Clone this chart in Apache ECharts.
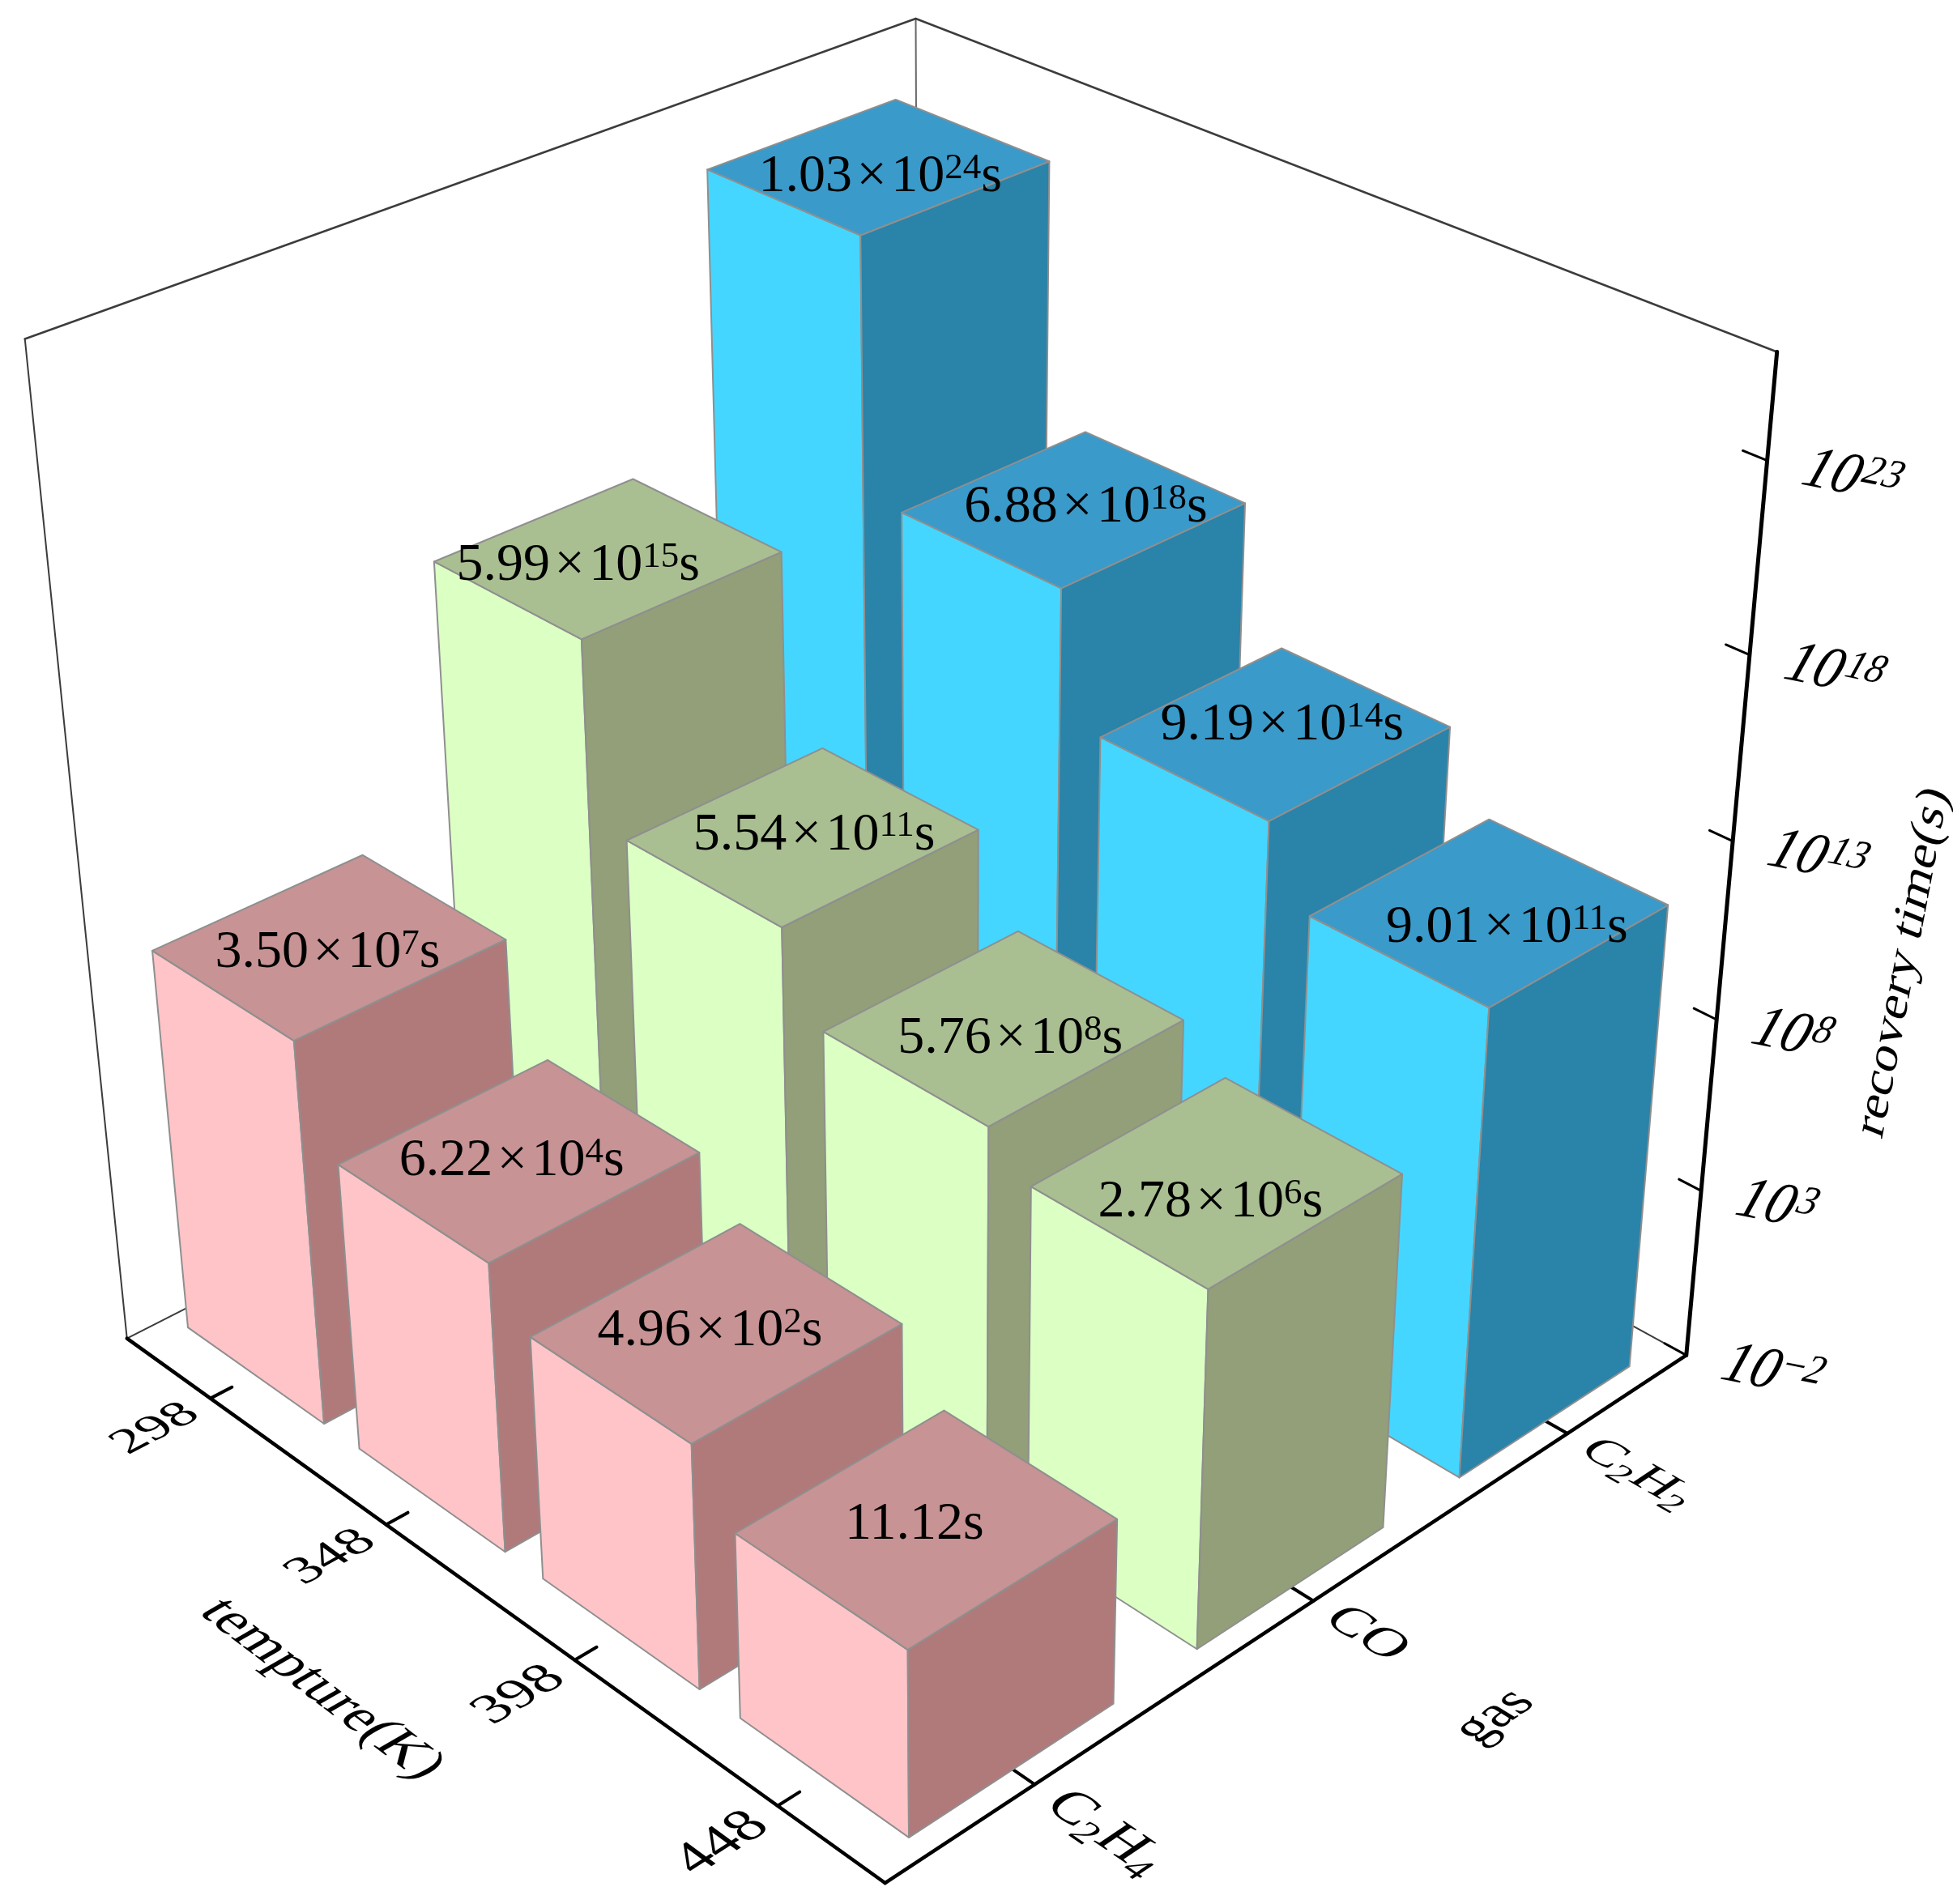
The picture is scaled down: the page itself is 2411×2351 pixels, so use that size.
<!DOCTYPE html>
<html>
<head>
<meta charset="utf-8">
<title>recovery time</title>
<style>
  html, body { margin: 0; padding: 0; background: #fff; }
  #main { width: 2411px; height: 2351px; }
</style>
<script src="https://cdn.jsdelivr.net/npm/echarts@6/dist/echarts.min.js"></script>
</head>
<body>
<div id="main"></div>
<script>
// data
const temperatures = ['298', '348', '398', '448'];
const gasLabels = ['C{sub|2}H{sub|4}', 'CO', 'C{sub|2}H{sub|2}'];
// values printed on the bars
const c2h4Times = [3.50e7, 6.22e4, 4.96e2, 11.12];
const coTimes = [5.99e15, 5.54e11, 5.76e8, 2.78e6];
const c2h2Times = [1.03e24, 6.88e18, 9.19e14, 9.01e11];
// bar tops as they sit on the axis in the picture (not the same as the printed values)
const c2h4Tops = [1.7e9, 2.5e6, 1.1e5, 2.1e3];
const coTops = [2.9e16, 3.0e11, 1.6e9, 1.7e8];
const c2h2Tops = [1.2e24, 1.2e17, 3.4e13, 3.3e11];
const zExponents = [-2, 3, 8, 13, 18, 23];
const zTopExponent = 25.7;

const gasColors = [
  { left: '#ffc4c8', right: '#b07a7b', top: '#c79394' },
  { left: '#dcffc4', right: '#929f78', top: '#a9bf92' },
  { left: '#45d6ff', right: '#2a83a8', top: '#3a9aca' }
];
const barWidthU = 0.80, barWidthV = 0.70;
const FONT = '"Liberation Serif", serif';
// small hand shifts of the printed labels from the centre of the top face, px, [gas][temperature]
const labelNudge = [
  [[-2, 10], [-9, 3], [-8, 1], [-15, -2]],
  [[-37, 11], [14, 0], [8, 16], [-8, 27]],
  [[2, 14], [15, 0], [8, -8], [22, 21]]
];
// distance of the gas tick labels from the axis
const gasLabelU = [1.08, 1.06, 1.08];

// camera: 3d box (u along temperature, v along gas, w up) to screen, fitted on the box corners
const boxCorners = [
  [0, 0, 0, 157, 1653], [1, 0, 0, 1092, 2325], [1, 1, 0, 2082, 1673],
  [0, 0, 1, 31, 418], [1, 1, 1, 2194, 435], [0, 1, 1, 1130, 23]
];
function solveCamera(pts) {
  const A = [], b = [];
  pts.forEach(function (p) {
    const u = p[0], v = p[1], w = p[2], x = p[3], y = p[4];
    A.push([u, v, w, 1, 0, 0, 0, 0, -x * u, -x * v, -x * w]); b.push(x);
    A.push([0, 0, 0, 0, u, v, w, 1, -y * u, -y * v, -y * w]); b.push(y);
  });
  // normal equations
  const n = 11, M = [];
  for (let i = 0; i < n; i++) {
    M.push([]);
    for (let j = 0; j <= n; j++) {
      let s = 0;
      for (let k = 0; k < A.length; k++) s += A[k][i] * (j < n ? A[k][j] : b[k]);
      M[i].push(s);
    }
  }
  for (let i = 0; i < n; i++) {
    let piv = i;
    for (let r = i + 1; r < n; r++) if (Math.abs(M[r][i]) > Math.abs(M[piv][i])) piv = r;
    const t = M[i]; M[i] = M[piv]; M[piv] = t;
    for (let r = 0; r < n; r++) {
      if (r === i) continue;
      const f = M[r][i] / M[i][i];
      for (let c = i; c <= n; c++) M[r][c] -= f * M[i][c];
    }
  }
  return M.map(function (row, i) { return row[n] / row[i]; });
}
const cam = solveCamera(boxCorners);
function project(u, v, w) {
  const d = cam[8] * u + cam[9] * v + cam[10] * w + 1;
  return [
    (cam[0] * u + cam[1] * v + cam[2] * w + cam[3]) / d,
    (cam[4] * u + cam[5] * v + cam[6] * w + cam[7]) / d
  ];
}

// text in an arbitrary plane: ex = screen image of text +x, ey = screen image of text +y (down)
function planeText(x, y, ex, ey, style) {
  const E = (ex[0] + ey[1]) / 2, F = (ex[0] - ey[1]) / 2;
  const G = (ex[1] + ey[0]) / 2, H = (ex[1] - ey[0]) / 2;
  const Q = Math.hypot(E, H), R = Math.hypot(F, G);
  const a1 = Math.atan2(G, F), a2 = Math.atan2(H, E);
  const theta = (a2 - a1) / 2, phi = (a2 + a1) / 2;
  return {
    type: 'group', x: x, y: y, rotation: -phi,
    children: [{
      type: 'group', scaleX: Q + R, scaleY: Q - R,
      children: [{
        type: 'text', rotation: -theta,
        style: Object.assign({ x: 0, y: 0, fill: '#000', align: 'center', verticalAlign: 'middle' }, style)
      }]
    }]
  };
}
// text lying on the floor of the box
function floorText(u, v, along, fontSize, kBase, kUp, text, rich) {
  const p = project(u, v, 0);
  const e = 0.01;
  const pu = project(u + e, v, 0), pv = project(u, v + e, 0);
  const du = [(pu[0] - p[0]) / e, (pu[1] - p[1]) / e];
  const dv = [(pv[0] - p[0]) / e, (pv[1] - p[1]) / e];
  let ex, ey;
  if (along === 'v') {
    ex = [dv[0] * kBase, dv[1] * kBase];
    ey = [du[0] * kUp, du[1] * kUp];
  } else {
    ex = [du[0] * kBase, du[1] * kBase];
    ey = [-dv[0] * kUp, -dv[1] * kUp];
  }
  return planeText(p[0], p[1], ex, ey, { text: text, fontSize: fontSize, fontFamily: FONT, rich: rich });
}
function seg(a, b, width, color) {
  return {
    type: 'line',
    shape: { x1: a[0], y1: a[1], x2: b[0], y2: b[1] },
    style: { stroke: color, lineWidth: width, lineCap: 'round' }
  };
}
function poly(points, fill) {
  return {
    type: 'polygon',
    shape: { points: points },
    style: { fill: fill, stroke: '#8f8f8f', lineWidth: 2, lineJoin: 'round' }
  };
}

function valueLabel(value) {
  if (value < 100) return value.toFixed(2) + 's';
  const parts = value.toExponential(2).split('e+');
  return parts[0] + '\u200a×\u200a10{s|' + parts[1] + '}s';
}

const zScale = { min: 0.01, max: Math.pow(10, zTopExponent) };

// rows: temperature index, bar top, gas index, printed value; far bars first so near bars paint over them
const gasTimes = [c2h4Times, coTimes, c2h2Times];
const gasTops = [c2h4Tops, coTops, c2h2Tops];
const barRows = [];
for (let g = gasTimes.length - 1; g >= 0; g--) {
  gasTimes[g].forEach(function (val, t) { barRows.push([t, gasTops[g][t], g, val]); });
}

function renderBar(params, api) {
  const rect = params.coordSys;
  const pos = api.coord([api.value(0), api.value(1)]);
  const band = api.size([1, 0])[0] / rect.width;
  const g = api.value(2);
  const u = (pos[0] - rect.x) / rect.width;
  const v = (g + 0.5) / gasLabels.length;
  const w = (rect.y + rect.height - pos[1]) / rect.height;
  const hu = band * barWidthU / 2, hv = barWidthV / gasLabels.length / 2;
  const c = gasColors[g];

  const fl0 = project(u - hu, v - hv, 0), fr0 = project(u + hu, v - hv, 0), br0 = project(u + hu, v + hv, 0);
  const fl1 = project(u - hu, v - hv, w), fr1 = project(u + hu, v - hv, w);
  const br1 = project(u + hu, v + hv, w), bl1 = project(u - hu, v + hv, w);
  const mid = project(u, v, w);
  const nudge = labelNudge[g][api.value(0)];
  return {
    type: 'group',
    children: [
      poly([fl0, fr0, fr1, fl1], c.left),
      poly([fr0, br0, br1, fr1], c.right),
      poly([fl1, fr1, br1, bl1], c.top),
      {
        type: 'text',
        style: {
          x: mid[0] + nudge[0], y: mid[1] + nudge[1], text: valueLabel(api.value(3)), fill: '#000',
          align: 'center', verticalAlign: 'middle', fontSize: 66, fontFamily: FONT,
          rich: { s: { fontSize: 45, fontFamily: FONT, verticalAlign: 'top' } }
        }
      }
    ]
  };
}

function renderFrame(params, api) {
  const rect = params.coordSys;
  const kids = [];
  const thin = '#3c3c3c', axisC = '#000';
  // back walls
  kids.push(seg(project(0, 0, 0), project(0, 1, 0), 2, thin));
  kids.push(seg(project(1, 1, 0), project(0, 1, 0), 2, thin));
  kids.push(seg(project(0, 1, 0), project(0, 1, 1), 2, '#666'));
  kids.push(seg(project(0, 0, 0), project(0, 0, 1), 2, thin));
  kids.push(seg(project(0, 0, 1), project(0, 1, 1), 2.5, thin));
  kids.push(seg(project(0, 1, 1), project(1, 1, 1), 2.5, thin));
  // axes
  kids.push(seg(project(0, 0, 0), project(1, 0, 0), 4.5, axisC));
  kids.push(seg(project(1, 0, 0), project(1, 1, 0), 4.5, axisC));
  kids.push(seg(project(1, 1, 0), project(1, 1, 1), 5, axisC));

  temperatures.forEach(function (t, i) {
    const u = (i + 0.5) / temperatures.length;
    kids.push(seg(project(u, 0, 0), project(u, 0.024, 0), 4, axisC));
    kids.push(floorText(u + 0.002, -0.062, 'v', 46, 0.00118, 0.00115, t));
  });
  gasLabels.forEach(function (t, i) {
    const v = (i + 0.5) / gasLabels.length;
    kids.push(seg(project(1, v, 0), project(0.972, v, 0), 4, axisC));
    kids.push(floorText(gasLabelU[i], v, 'u', 46, 0.00118, 0.00115, t, {
      sub: { fontSize: 32, fontFamily: FONT, verticalAlign: 'bottom', padding: [24, 0, 0, 0] }
    }));
  });
  kids.push(floorText(0.508, -0.175, 'u', 46, 0.0013, 0.00112, 'tempture(K)'));
  kids.push(floorText(1.203, 0.497, 'v', 46, 0.00122, 0.00112, 'gas'));

  zExponents.forEach(function (n) {
    const pos = api.coord([0, Math.pow(10, n)]);
    const w = (rect.y + rect.height - pos[1]) / rect.height;
    const p = project(1, 1, w);
    kids.push(seg(p, project(0.975, 1, w), 3, axisC));
    kids.push(planeText(p[0] + 46, p[1] + 10, [1, 0.2], [-0.55, 1.0], {
      text: '10{s|' + String(n).replace('-', '−') + '}',
      align: 'left', fontSize: 68, fontFamily: FONT,
      rich: { s: { fontSize: 47, fontFamily: FONT, verticalAlign: 'top' } }
    }));
  });
  kids.push(planeText(2350, 1188, [0.2, -1.05], [0.85, 0.34], {
    text: 'recovery time(s)', fontSize: 62, fontFamily: FONT
  }));
  return { type: 'group', children: kids };
}

const myChart = echarts.init(document.getElementById('main'));
myChart.setOption({
  animation: false,
  backgroundColor: '#fff',
  // hidden 2d axes: they give the scales, the camera turns them into the 3d view
  grid: { left: 0, right: 0, top: 0, bottom: 0, containLabel: false },
  xAxis: { type: 'category', data: temperatures, show: false },
  yAxis: { type: 'log', logBase: 10, min: zScale.min, max: zScale.max, show: false },
  series: [
    { type: 'custom', z: 1, silent: true, clip: false, renderItem: renderFrame, data: [[0, 1, 0]], encode: { x: 0, y: 1 } },
    { type: 'custom', z: 2, silent: true, clip: false, renderItem: renderBar, data: barRows, encode: { x: 0, y: 1 } }
  ]
});
</script>
</body>
</html>
